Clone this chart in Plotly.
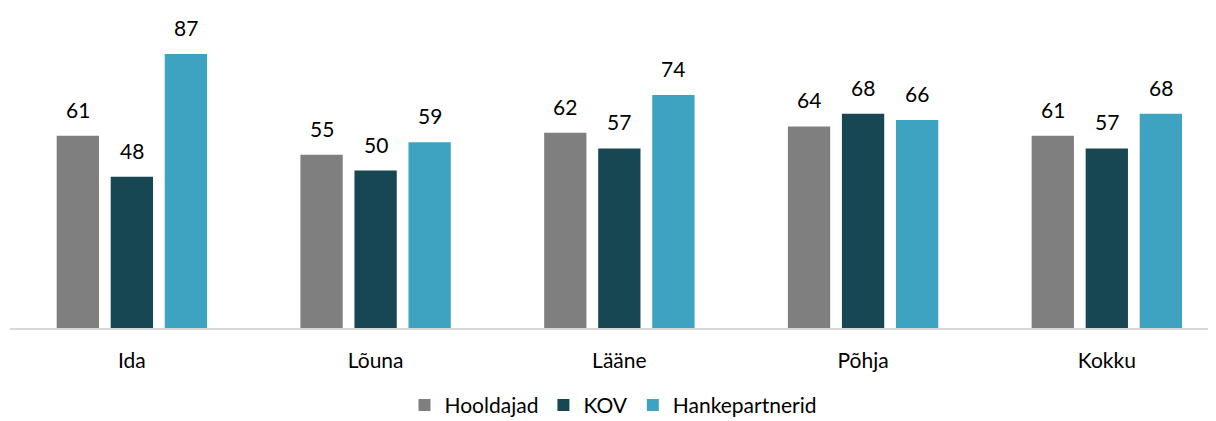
import plotly.graph_objects as go

categories = ["Ida", "Lõuna", "Lääne", "Põhja", "Kokku"]
series_names = ["Hooldajad", "KOV", "Hankepartnerid"]
hooldajad = [61, 55, 62, 64, 61]
kov = [48, 50, 57, 68, 57]
hankepartnerid = [87, 59, 74, 66, 68]
colors = ["#7f7f7f", "#174753", "#3ea3c0"]

series_values = [hooldajad, kov, hankepartnerid]

bargap = 0.335
fig = go.Figure()
for name, vals, col in zip(series_names, series_values, colors):
    fig.add_trace(go.Bar(x=categories, y=vals, name=name, marker_color=col,
                         marker_line_width=0))

annotations = []
slot = (1 - bargap) / 3
for si, vals in enumerate(series_values):
    off = (si - 1) * slot
    for ci, v in enumerate(vals):
        annotations.append(dict(x=ci + off, y=v, xref="x", yref="y", text=str(v),
                                showarrow=False, yanchor="bottom", yshift=12,
                                font=dict(family="Lato", size=21, color="#000000")))

fig.update_layout(
    width=1208, height=413,
    margin=dict(l=2, r=0, t=5, b=93, autoexpand=False),
    paper_bgcolor="white", plot_bgcolor="white",
    barmode="group", bargap=bargap, bargroupgap=0.217,
    font=dict(family="Lato", size=21, color="#000000"),
    annotations=annotations,
    showlegend=True,
    legend=dict(orientation="h", x=0.5, xanchor="center",
                yref="container", y=0.038, yanchor="middle",
                font=dict(family="Lato", size=21, color="#000000"),
                itemwidth=30, traceorder="normal"),
    xaxis=dict(range=[-0.5, 4.448], showgrid=False, showline=True,
               linecolor="#d9d9d9", linewidth=1.5, ticks="",
               ticklabelstandoff=13, tickfont=dict(family="Lato", size=21)),
    yaxis=dict(range=[0, 100], visible=False, showgrid=False),
)

fig.write_html("out.html")
